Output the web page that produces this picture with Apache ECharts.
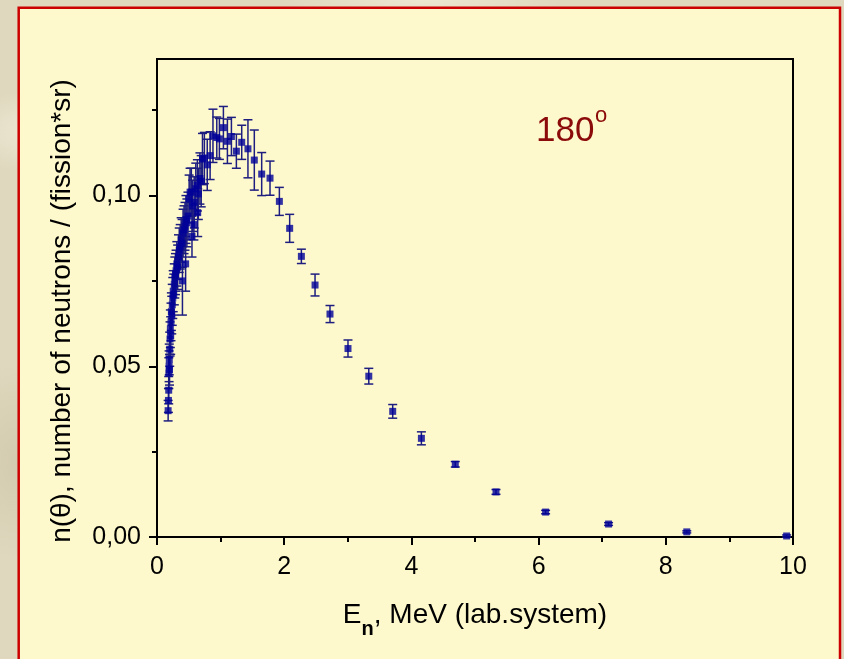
<!DOCTYPE html>
<html>
<head>
<meta charset="utf-8">
<script src="https://cdn.jsdelivr.net/npm/echarts@6/dist/echarts.min.js"></script>
<style>
html,body{margin:0;padding:0;width:844px;height:659px;overflow:hidden;}
body{
  background-color:#DFD8BE;
  background-image:
    radial-gradient(ellipse 120px 60px at 5% 20%, rgba(245,240,225,0.7), rgba(245,240,225,0) 70%),
    radial-gradient(ellipse 90px 140px at 2% 70%, rgba(200,190,160,0.5), rgba(200,190,160,0) 70%),
    radial-gradient(ellipse 200px 30px at 50% 0%, rgba(240,235,215,0.8), rgba(240,235,215,0) 70%),
    radial-gradient(ellipse 60px 200px at 100% 50%, rgba(205,195,165,0.6), rgba(205,195,165,0) 70%);
}
#chart{width:844px;height:659px;}
</style>
</head>
<body>
<div id="chart"></div>
<script>
// Neutron energy (MeV, lab system)
const energies = [
  0.175, 0.180, 0.184, 0.186, 0.190, 0.193, 0.197, 0.200, 0.205, 0.210,
  0.215, 0.220, 0.226, 0.232, 0.240, 0.248, 0.255, 0.263, 0.272, 0.280,
  0.290, 0.300, 0.312, 0.325, 0.338, 0.350, 0.365, 0.380, 0.395, 0.400,
  0.410, 0.425, 0.440, 0.450, 0.455, 0.470, 0.487, 0.505, 0.520, 0.540,
  0.550, 0.560, 0.580, 0.585, 0.610, 0.635, 0.640, 0.650, 0.675, 0.695,
  0.715, 0.745, 0.790, 0.835, 0.880, 0.940, 0.981, 1.044, 1.107, 1.170,
  1.248, 1.332, 1.430, 1.530, 1.646, 1.777, 1.924, 2.086, 2.270, 2.485,
  2.720, 3.003, 3.330, 3.706, 4.157, 4.690, 5.330, 6.110, 7.100, 8.330,
  9.900
];
// n(theta), number of neutrons / (fission*sr)
const yields = [
  0.0370, 0.0400, 0.0430, 0.0480, 0.0500, 0.0520, 0.0490, 0.0550, 0.0580, 0.0610,
  0.0590, 0.0630, 0.0660, 0.0650, 0.0680, 0.0700, 0.0720, 0.0710, 0.0740, 0.0760,
  0.0770, 0.0780, 0.0800, 0.0790, 0.0820, 0.0840, 0.0850, 0.0870, 0.0860, 0.0750,
  0.0890, 0.0900, 0.0910, 0.0800, 0.0930, 0.0920, 0.0940, 0.0990, 0.1010, 0.1010,
  0.0880, 0.0970, 0.0915, 0.0980, 0.1020, 0.1030, 0.0950, 0.1005, 0.1050, 0.1042,
  0.1107, 0.1110, 0.1090, 0.1117, 0.1175, 0.1170, 0.1166, 0.1199, 0.1159, 0.1173,
  0.1130, 0.1156, 0.1137, 0.1104, 0.1063, 0.1051, 0.0983, 0.0904, 0.0822, 0.0738,
  0.0653, 0.0552, 0.0471, 0.0368, 0.0289, 0.0213, 0.0132, 0.0073, 0.0038, 0.0015,
  0.0003
];
// statistical errors (half-length of error bars)
const errors = [
  0.0030, 0.0035, 0.0040, 0.0045, 0.0045, 0.0045, 0.0045, 0.0050, 0.0050, 0.0055,
  0.0055, 0.0055, 0.0055, 0.0055, 0.0060, 0.0060, 0.0060, 0.0060, 0.0060, 0.0060,
  0.0060, 0.0060, 0.0065, 0.0065, 0.0065, 0.0065, 0.0065, 0.0065, 0.0070, 0.0100,
  0.0070, 0.0070, 0.0070, 0.0080, 0.0070, 0.0070, 0.0070, 0.0070, 0.0070, 0.0070,
  0.0060, 0.0075, 0.0045, 0.0075, 0.0075, 0.0075, 0.0070, 0.0075, 0.0075, 0.0075,
  0.0075, 0.0075, 0.0075, 0.0070, 0.0078, 0.0060, 0.0060, 0.0062, 0.0065, 0.0056,
  0.0050, 0.0050, 0.0085, 0.0088, 0.0063, 0.0050, 0.0041, 0.0041, 0.0021, 0.0032,
  0.0025, 0.0025, 0.0023, 0.0020, 0.0019, 0.0008, 0.0007, 0.0005, 0.0004, 0.0003,
  0.0003
];
const xTicks = [0, 2, 4, 6, 8, 10];
const yTicks = [0, 0.05, 0.10];
const yMinorTicks = [0.025, 0.075, 0.125];
const angleLabel = '180';
const xTitle = 'E';
const xTitleSub = 'n';
const xTitleRest = ', MeV (lab.system)';
const yTitle = 'n(\u03B8), number of neutrons / (fission*sr)';

const FONT = '"Liberation Sans", Arial, Helvetica, sans-serif';

const points = energies.map((e, i) => [e, yields[i]]);
const bars = energies.map((e, i) => [e, yields[i] - errors[i], yields[i] + errors[i]]);

const chart = echarts.init(document.getElementById('chart'), null, {renderer: 'canvas'});

const gridRect = {left: 157, top: 59, width: 636, height: 478};

chart.setOption({
  backgroundColor: 'transparent',
  animation: false,
  grid: [
    Object.assign({show: true, borderColor: '#000', borderWidth: 2, backgroundColor: 'transparent', containLabel: false}, gridRect),
    Object.assign({show: false, containLabel: false}, gridRect)
  ],
  xAxis: [{
    type: 'value', gridIndex: 0, min: 0, max: 10, interval: 2,
    axisLine: {show: true, lineStyle: {color: '#000', width: 2}},
    axisTick: {show: true, inside: false, length: 8, lineStyle: {color: '#000', width: 2}, customValues: xTicks},
    minorTick: {show: true, splitNumber: 2, length: 5, lineStyle: {color: '#000', width: 2}},
    axisLabel: {show: true, margin: 18, color: '#000', fontSize: 25, fontFamily: FONT, customValues: xTicks,
      formatter: v => String(v)},
    splitLine: {show: false}, minorSplitLine: {show: false}
  }, {
    type: 'value', gridIndex: 1, min: 0, max: 10, show: false
  }],
  yAxis: [{
    type: 'value', gridIndex: 0, min: 0, max: 0.14, interval: 0.05,
    axisLine: {show: true, lineStyle: {color: '#000', width: 2}},
    axisTick: {show: true, inside: false, length: 8, lineStyle: {color: '#000', width: 2}, customValues: yTicks},
    axisLabel: {show: true, margin: 16, color: '#000', fontSize: 25, fontFamily: FONT, customValues: yTicks,
      formatter: v => v.toFixed(2).replace('.', ',')},
    splitLine: {show: false}
  }, {
    type: 'value', gridIndex: 1, min: 0, max: 0.14, position: 'left',
    axisLine: {show: false},
    axisTick: {show: true, inside: false, length: 5, lineStyle: {color: '#000', width: 2}, customValues: yMinorTicks},
    axisLabel: {show: false},
    splitLine: {show: false}
  }],
  graphic: [
    {
      type: 'rect', z: -100, silent: true,
      shape: {x: 18.7, y: 7.8, width: 821.3, height: 700},
      style: {fill: '#FEF9CC', stroke: '#CC0000', lineWidth: 2.5}
    },
    {
      type: 'text', z: 10,
      style: {
        text: angleLabel, x: 536, y: 131.7, fill: '#8B0A0A',
        font: '35px ' + FONT, align: 'left', verticalAlign: 'middle',
        textAlign: 'left', textVerticalAlign: 'middle'
      }
    },
    {
      type: 'text', z: 10,
      style: {
        text: 'o', x: 595, y: 116, fill: '#8B0A0A',
        font: '22px ' + FONT, align: 'left', verticalAlign: 'middle',
        textAlign: 'left', textVerticalAlign: 'middle'
      }
    },
    {
      type: 'text', z: 10,
      style: {
        text: '{e|' + xTitle + '}{n|' + xTitleSub + '}{e|' + xTitleRest + '}',
        x: 475, y: 601,
        align: 'center', verticalAlign: 'top',
        textAlign: 'center', textVerticalAlign: 'top',
        rich: {
          e: {fontSize: 28, fontFamily: FONT, fill: '#000', color: '#000', lineHeight: 28, verticalAlign: 'top'},
          n: {fontSize: 20, fontWeight: 'bold', fontFamily: FONT, fill: '#000', color: '#000', lineHeight: 56, verticalAlign: 'middle'}
        }
      }
    },
    {
      type: 'text', z: 10,
      x: 62, y: 311, rotation: Math.PI / 2,
      style: {
        text: yTitle, x: 0, y: 0, fill: '#000',
        font: '28px ' + FONT, align: 'center', verticalAlign: 'middle',
        textAlign: 'center', textVerticalAlign: 'middle'
      }
    }
  ],
  series: [
    {
      type: 'custom', xAxisIndex: 0, yAxisIndex: 0, z: 3,
      data: bars,
      clip: false,
      renderItem: function (params, api) {
        const x = api.value(0);
        const lo = api.coord([x, api.value(1)]);
        const hi = api.coord([x, api.value(2)]);
        const hw = 4.5;
        const st = {stroke: '#1E1E80', lineWidth: 1.5};
        return {
          type: 'group',
          children: [
            {type: 'line', shape: {x1: lo[0], y1: lo[1], x2: hi[0], y2: hi[1]}, style: st},
            {type: 'line', shape: {x1: lo[0] - hw, y1: lo[1], x2: lo[0] + hw, y2: lo[1]}, style: st},
            {type: 'line', shape: {x1: hi[0] - hw, y1: hi[1], x2: hi[0] + hw, y2: hi[1]}, style: st}
          ]
        };
      },
      encode: {x: 0, y: [1, 2]}
    },
    {
      type: 'scatter', xAxisIndex: 0, yAxisIndex: 0, z: 4,
      data: points,
      symbol: 'rect', symbolSize: 7,
      itemStyle: {color: '#000099'}
    }
  ]
});
</script>
</body>
</html>
